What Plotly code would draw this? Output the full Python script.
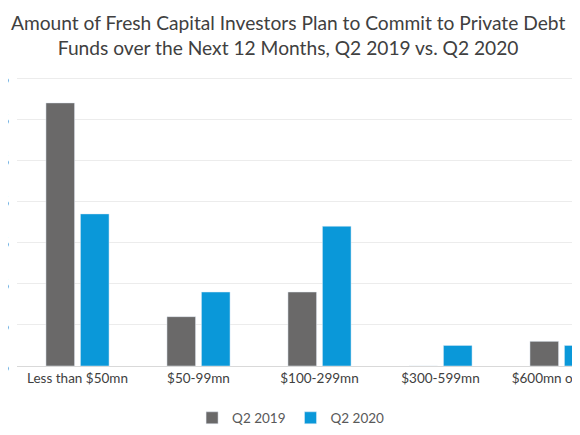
import plotly.graph_objects as go

categories = ["Less than $50mn", "$50-99mn", "$100-299mn", "$300-599mn", "$600mn or more"]
q2_2019 = [64, 12, 18, 0, 6]
q2_2020 = [37, 18, 34, 5, 5]
y_ticks = [0, 10, 20, 30, 40, 50, 60, 70]
y_tick_labels = [f"{v}%" for v in y_ticks]

FONT = "Lato"

fig = go.Figure()
fig.add_trace(go.Bar(x=categories, y=q2_2019, name="Q2 2019", marker_color="#6a6969"))
fig.add_trace(go.Bar(x=categories, y=q2_2020, name="Q2 2020", marker_color="#0a98d9"))

fig.update_layout(
    width=580, height=435,
    margin=dict(l=9, r=0, t=69, b=77, autoexpand=False),
    paper_bgcolor="white", plot_bgcolor="white",
    font=dict(family=FONT, color="#595959", size=13.5),
    title=dict(
        text="Amount of Fresh Capital Investors Plan to Commit to Private Debt<br>Funds over the Next 12 Months, Q2 2019 vs. Q2 2020",
        x=0.483, xanchor="center", y=0.95, yanchor="middle",
        font=dict(family=FONT, size=19.2, color="#404040"),
    ),
    barmode="group", bargap=0.43, bargroupgap=0.17,
    showlegend=True,
    legend=dict(orientation="h", x=0.48, xanchor="center", y=-0.18, yanchor="middle",
                font=dict(family=FONT, size=13.5, color="#595959"),
                itemwidth=30, traceorder="normal"),
    xaxis=dict(range=[-0.5, 4.219], showgrid=False, showline=True, linecolor="#d9d9d9",
               linewidth=1, ticks="", tickfont=dict(size=13.5, color="#404040"), automargin=False),
    yaxis=dict(range=[0, 70.3], tickvals=y_ticks, ticktext=y_tick_labels, showgrid=True,
               gridcolor="#ececec", gridwidth=1, zeroline=False, ticks="", showline=False,
               ticklabelstandoff=7, tickfont=dict(size=13.5, color="#595959"), automargin=False),
)

fig.write_html("out.html")
